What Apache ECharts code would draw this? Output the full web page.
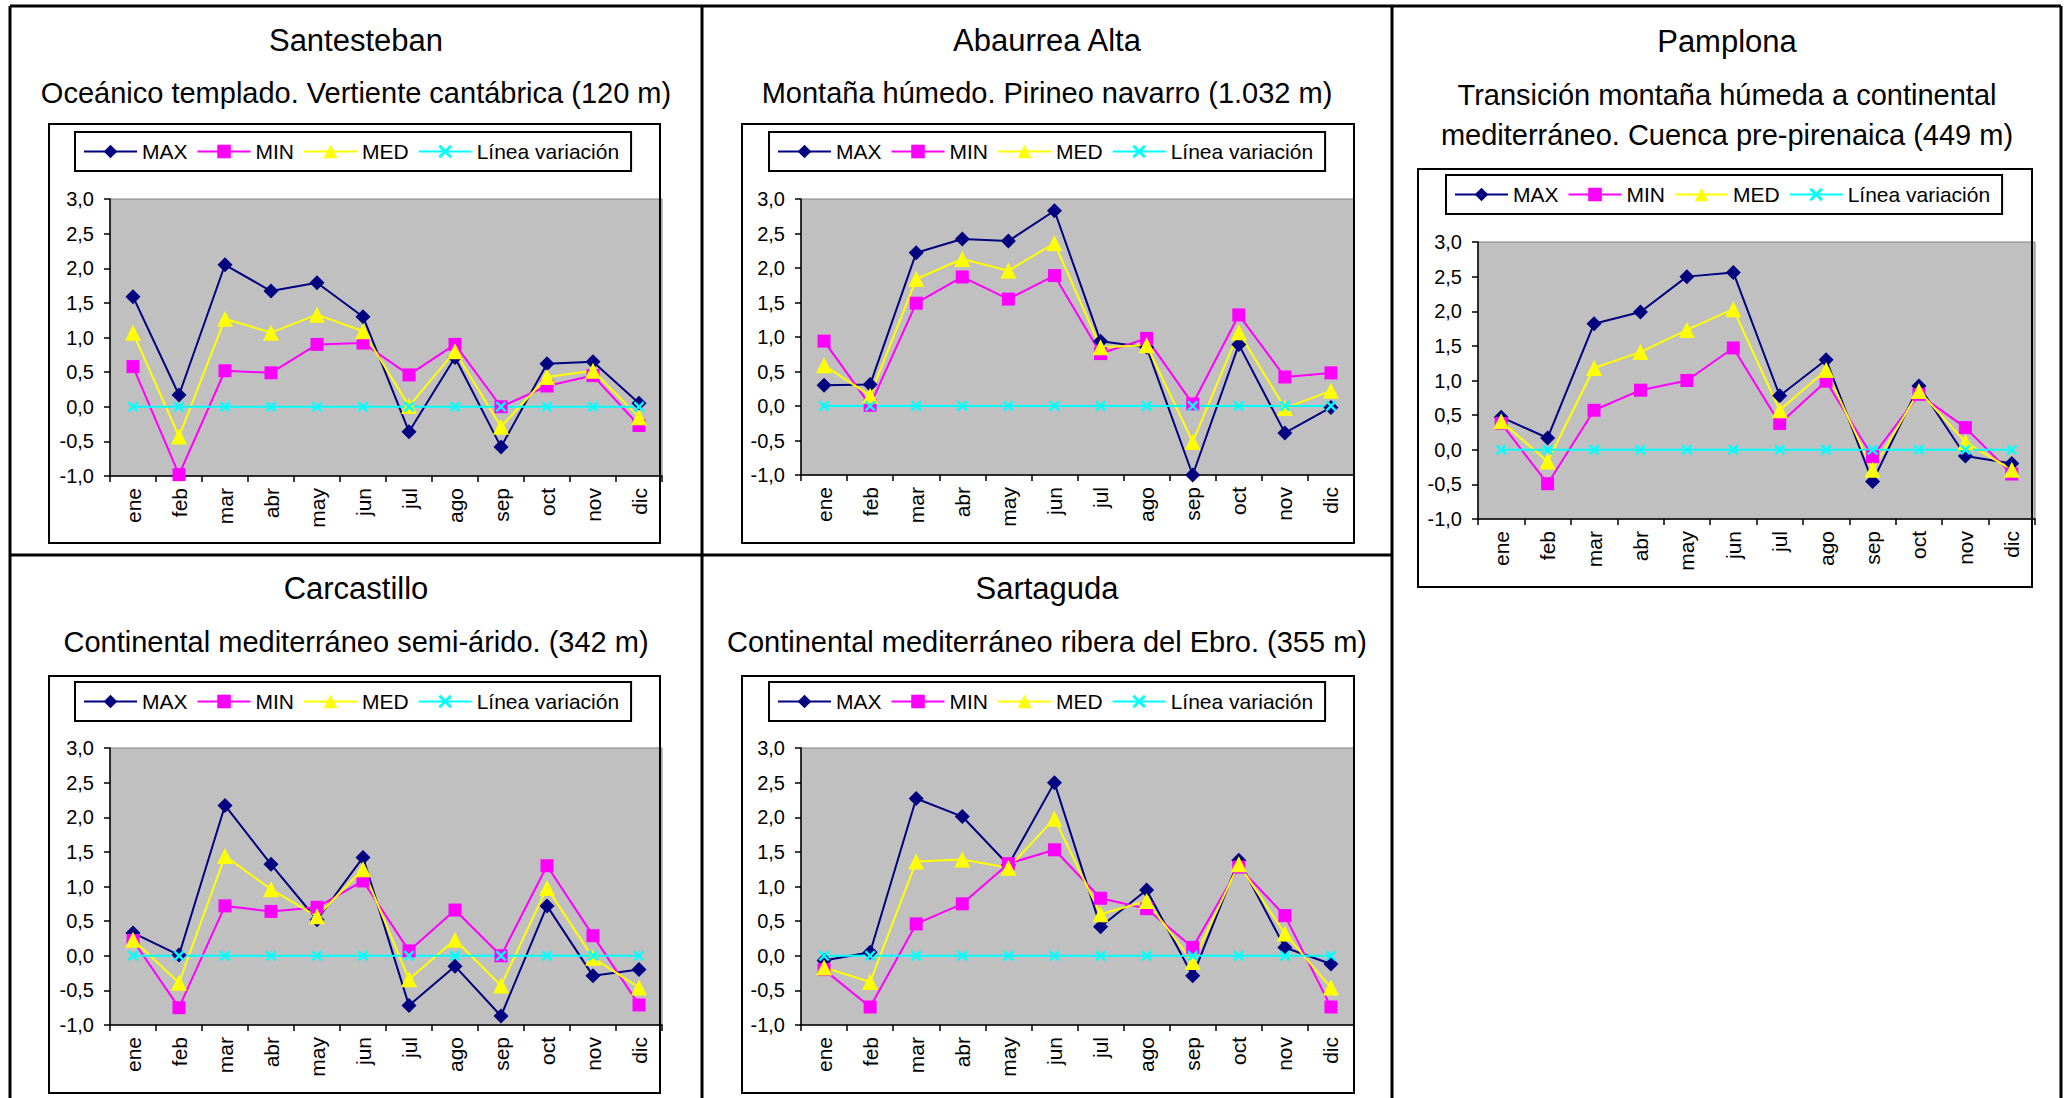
<!DOCTYPE html>
<html>
<head>
<meta charset="UTF-8">
<title>Variación de temperaturas</title>
<script src="https://cdn.jsdelivr.net/npm/echarts@6/dist/echarts.min.js"></script>
<style>
html, body { margin: 0; padding: 0; background: #fff; }
#box { width: 2065px; height: 1098px; }
</style>
</head>
<body>
<div id="box"></div>
<script>
// meses del eje X
var meses = ['ene', 'feb', 'mar', 'abr', 'may', 'jun', 'jul', 'ago', 'sep', 'oct', 'nov', 'dic'];
var nombresSeries = ['MAX', 'MIN', 'MED', 'Línea variación'];

// valores
var santestebanMax = [1.59, 0.17, 2.05, 1.67, 1.79, 1.30, -0.36, 0.71, -0.58, 0.62, 0.65, 0.05];
var santestebanMin = [0.58, -0.98, 0.52, 0.49, 0.90, 0.92, 0.46, 0.90, 0.00, 0.30, 0.45, -0.27];
var santestebanMed = [1.07, -0.43, 1.27, 1.07, 1.33, 1.09, 0.01, 0.80, -0.29, 0.43, 0.52, -0.15];

var abaurreaMax = [0.30, 0.31, 2.22, 2.42, 2.39, 2.83, 0.94, 0.85, -1.00, 0.89, -0.39, -0.02];
var abaurreaMin = [0.94, 0.01, 1.49, 1.87, 1.55, 1.89, 0.76, 0.98, 0.03, 1.32, 0.42, 0.48];
var abaurreaMed = [0.59, 0.15, 1.84, 2.13, 1.96, 2.36, 0.85, 0.88, -0.52, 1.07, -0.03, 0.22];

var pamplonaMax = [0.47, 0.17, 1.82, 1.99, 2.50, 2.56, 0.78, 1.30, -0.46, 0.92, -0.09, -0.20];
var pamplonaMin = [0.38, -0.49, 0.57, 0.86, 1.00, 1.47, 0.38, 0.99, -0.10, 0.80, 0.32, -0.35];
var pamplonaMed = [0.41, -0.17, 1.18, 1.41, 1.73, 2.03, 0.57, 1.15, -0.29, 0.85, 0.11, -0.29];

var carcastilloMax = [0.33, 0.01, 2.17, 1.32, 0.52, 1.42, -0.72, -0.15, -0.87, 0.72, -0.29, -0.20];
var carcastilloMin = [0.22, -0.75, 0.72, 0.64, 0.70, 1.08, 0.07, 0.66, 0.00, 1.30, 0.29, -0.71];
var carcastilloMed = [0.23, -0.39, 1.44, 0.96, 0.57, 1.25, -0.34, 0.23, -0.43, 0.98, -0.03, -0.46];

var sartagudaMax = [-0.07, 0.05, 2.27, 2.01, 1.31, 2.50, 0.42, 0.95, -0.29, 1.38, 0.12, -0.12];
var sartagudaMin = [-0.20, -0.74, 0.46, 0.75, 1.33, 1.53, 0.83, 0.68, 0.12, 1.28, 0.58, -0.74];
var sartagudaMed = [-0.17, -0.38, 1.36, 1.39, 1.27, 1.98, 0.60, 0.79, -0.09, 1.32, 0.32, -0.46];

var lineaVariacion = [0, 0, 0, 0, 0, 0, 0, 0, 0, 0, 0, 0];

var fuente = '"Liberation Sans", Arial, sans-serif';

// posición de cada panel
var paneles = [
    { titulo: 'Santesteban', sub: ['Oceánico templado. Vertiente cantábrica (120 m)'],
      datos: [santestebanMax, santestebanMin, santestebanMed],
      cx: 356, ty: 40, sy: [93], caja: [49, 124, 611, 419], ley: [75, 132], plot: [110, 199, 552, 277] },
    { titulo: 'Abaurrea Alta', sub: ['Montaña húmedo. Pirineo navarro (1.032 m)'],
      datos: [abaurreaMax, abaurreaMin, abaurreaMed],
      cx: 1047, ty: 40, sy: [93], caja: [742, 124, 612, 419], ley: [769, 132], plot: [801, 199, 553, 276] },
    { titulo: 'Pamplona', sub: ['Transición montaña húmeda a continental', 'mediterráneo. Cuenca pre-pirenaica (449 m)'],
      datos: [pamplonaMax, pamplonaMin, pamplonaMed],
      cx: 1727, ty: 41, sy: [95, 135], caja: [1418, 169, 614, 418], ley: [1446, 175], plot: [1478, 242, 557, 277] },
    { titulo: 'Carcastillo', sub: ['Continental mediterráneo semi-árido. (342 m)'],
      datos: [carcastilloMax, carcastilloMin, carcastilloMed],
      cx: 356, ty: 588, sy: [642], caja: [49, 676, 611, 417], ley: [75, 682], plot: [110, 748, 552, 277] },
    { titulo: 'Sartaguda', sub: ['Continental mediterráneo ribera del Ebro. (355 m)'],
      datos: [sartagudaMax, sartagudaMin, sartagudaMed],
      cx: 1047, ty: 588, sy: [642], caja: [742, 676, 612, 417], ley: [769, 682], plot: [801, 748, 553, 277] }
];

var colores = ['#000080', '#ff00ff', '#ffff00', '#00ffff'];
var simbolos = ['diamond', 'rect', 'triangle',
    'path://M0,1.5L1.5,0L5,3.5L8.5,0L10,1.5L6.5,5L10,8.5L8.5,10L5,6.5L1.5,10L0,8.5L3.5,5Z'];
var tamanos = [15, 13, 16, 11];

var grids = [], xAxes = [], yAxes = [], series = [], legends = [], graficos = [];

paneles.forEach(function (p, i) {
    grids.push({
        left: p.plot[0], top: p.plot[1], width: p.plot[2], height: p.plot[3],
        show: true, backgroundColor: '#c0c0c0', borderColor: '#808080', borderWidth: 1,
        containLabel: false, outerBoundsMode: 'none'
    });
    xAxes.push({
        type: 'category', gridIndex: i, data: meses, boundaryGap: true, position: 'bottom',
        axisLine: { show: true, onZero: false, lineStyle: { color: '#000', width: 1.5 } },
        axisTick: { show: true, alignWithLabel: false, length: 6, lineStyle: { color: '#000', width: 1.5 } },
        axisLabel: { rotate: 90, interval: 0, margin: 12, color: '#000', fontSize: 21, fontFamily: fuente },
        splitLine: { show: false }
    });
    yAxes.push({
        type: 'value', gridIndex: i, min: -1, max: 3, interval: 0.5,
        axisLine: { show: true, onZero: false, lineStyle: { color: '#000', width: 1.5 } },
        axisTick: { show: true, length: 6, lineStyle: { color: '#000', width: 1.5 } },
        axisLabel: {
            margin: 16, color: '#000', fontSize: 20, fontFamily: fuente,
            formatter: function (v) { return v.toFixed(1).replace('.', ','); }
        },
        splitLine: { show: false }
    });
    var valores = p.datos.concat([lineaVariacion]);
    valores.forEach(function (d, k) {
        series.push({
            name: nombresSeries[k], type: 'line', xAxisIndex: i, yAxisIndex: i, data: d,
            symbol: simbolos[k], symbolSize: tamanos[k], symbolKeepAspect: true,
            lineStyle: { color: colores[k], width: 2 },
            itemStyle: { color: colores[k], borderWidth: 0 },
            emphasis: { disabled: true }, silent: true
        });
    });
    legends.push({
        left: p.ley[0], top: p.ley[1], orient: 'horizontal', data: nombresSeries,
        itemWidth: 53, itemHeight: 17, itemGap: 9, padding: [9, 12, 9, 8],
        borderColor: '#000', borderWidth: 2, backgroundColor: '#fff', selectedMode: false,
        textStyle: { color: '#000', fontSize: 21, fontFamily: fuente }
    });
    // caja del gráfico
    graficos.push({
        type: 'rect', shape: { x: p.caja[0], y: p.caja[1], width: p.caja[2], height: p.caja[3] },
        style: { fill: 'none', stroke: '#000', lineWidth: 2 }, z: 100, silent: true
    });
    graficos.push({
        type: 'text', x: p.cx, y: p.ty, silent: true,
        style: { text: p.titulo, fill: '#000', fontSize: 31, fontFamily: fuente,
                 textAlign: 'center', textVerticalAlign: 'middle', align: 'center', verticalAlign: 'middle' }
    });
    p.sub.forEach(function (s, j) {
        graficos.push({
            type: 'text', x: p.cx, y: p.sy[j], silent: true,
            style: { text: s, fill: '#000', fontSize: 29, fontFamily: fuente,
                     textAlign: 'center', textVerticalAlign: 'middle', align: 'center', verticalAlign: 'middle' }
        });
    });
});

// líneas de la tabla
[[10, 6, 2061, 6], [10, 6, 10, 1098], [2061, 6, 2061, 1098], [702, 6, 702, 1098],
 [1392, 6, 1392, 1098], [10, 555, 1392, 555]].forEach(function (l) {
    graficos.push({
        type: 'line', shape: { x1: l[0], y1: l[1], x2: l[2], y2: l[3] },
        style: { stroke: '#000', lineWidth: 3 }, z: 100, silent: true
    });
});

var mychart = echarts.init(document.getElementById('box'), null, { renderer: 'svg' });
mychart.setOption({
    animation: false,
    backgroundColor: '#fff',
    grid: grids,
    xAxis: xAxes,
    yAxis: yAxes,
    legend: legends,
    series: series,
    graphic: graficos
});
</script>
</body>
</html>
